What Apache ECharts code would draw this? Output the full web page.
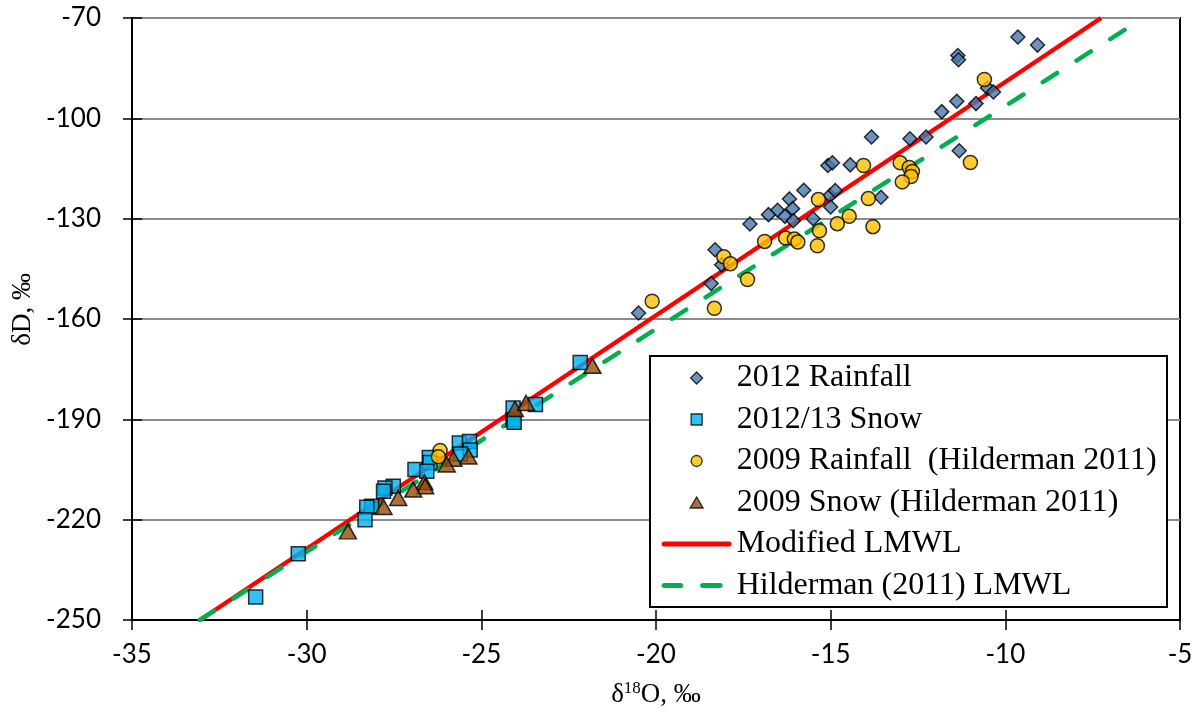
<!DOCTYPE html>
<html>
<head>
<meta charset="utf-8">
<script src="https://cdn.jsdelivr.net/npm/echarts@6/dist/echarts.min.js"></script>
<style>
html,body{margin:0;padding:0;background:#fff;}
#chart{width:1196px;height:713px;}
</style>
</head>
<body>
<div id="chart"></div>
<script>
// ---- Data (δ18O ‰, δD ‰) ----
const rain2012 = [[-9.64,-75.7],[-9.08,-78.1],[-11.36,-81.2],[-11.34,-82.5],[-10.51,-90.9],[-10.34,-92.1],[-11.39,-94.9],[-10.84,-95.6],[-11.82,-98.0],[-13.83,-105.6],[-12.73,-106.1],[-12.27,-105.6],[-11.32,-109.7],[-15.08,-114.1],[-14.95,-113.3],[-14.44,-113.9],[-15.77,-121.5],[-16.18,-124.1],[-15.02,-123.1],[-14.87,-121.6],[-13.56,-123.6],[-15.0,-126.5],[-16.09,-127.0],[-16.52,-127.5],[-16.78,-128.8],[-16.31,-129.3],[-16.07,-130.6],[-15.5,-130.0],[-17.31,-131.6],[-18.31,-139.3],[-18.12,-143.8],[-18.42,-149.4],[-20.5,-158.2]];
const snow2012 = [[-22.17,-173.0],[-24.09,-186.6],[-23.45,-185.6],[-24.09,-190.1],[-24.06,-190.9],[-25.63,-197.1],[-25.34,-196.6],[-25.32,-199.2],[-25.6,-200.4],[-26.49,-201.4],[-26.47,-202.9],[-26.9,-205.0],[-26.56,-205.5],[-27.52,-210.0],[-27.76,-210.5],[-27.8,-211.5],[-28.14,-216.0],[-28.28,-216.3],[-28.33,-220.0],[-30.24,-230.2],[-31.46,-243.1]];
const rain2009 = [[-10.6,-88.4],[-14.06,-114.1],[-13.01,-113.3],[-12.75,-114.7],[-12.66,-115.9],[-12.70,-117.4],[-12.95,-119.0],[-11.0,-113.2],[-15.35,-124.3],[-13.92,-124.0],[-14.47,-129.3],[-14.81,-131.5],[-13.79,-132.4],[-15.32,-133.6],[-15.38,-138.1],[-16.89,-136.8],[-16.29,-135.8],[-16.04,-136.1],[-15.94,-137.0],[-18.06,-141.4],[-17.87,-143.5],[-17.38,-148.2],[-20.11,-154.7],[-18.33,-156.8],[-26.18,-199.3],[-26.23,-201.2]];
const snow2009 = [[-21.82,-174.0],[-24.04,-186.9],[-23.72,-185.1],[-25.37,-201.1],[-25.8,-201.8],[-25.99,-203.5],[-26.63,-208.8],[-26.61,-210.0],[-26.95,-211.0],[-27.38,-213.5],[-27.8,-216.2],[-28.82,-223.5]];
const modLmwl = [[-33.05,-250],[-7.26,-70]];
const hildLmwl = [[-33.06,-250],[-6.29,-71.6]];
const seriesNames = ['2012 Rainfall','2012/13 Snow','2009 Rainfall  (Hilderman 2011)','2009 Snow (Hilderman 2011)','Modified LMWL','Hilderman (2011) LMWL'];
const xRange = {min:-35, max:-5, interval:5};
const yRange = {min:-250, max:-70, interval:30};

const chart = echarts.init(document.getElementById('chart'), null, {renderer:'canvas'});
const tickFont = {fontFamily:'Lato', fontSize:26, color:'#000'};
const serif = 'Liberation Serif, Times New Roman, serif';
const mk = {borderColor:'#000', borderWidth:1.5};

// legend icons laid out in a 70 x 12 box (corner moveTo points fix the box)
const box = 'path://M0 0M70 12';
const icons = [
  box + 'M35 0L41 6L35 12L29 6Z',
  box + 'M29.5 0.5H40.5V11.5H29.5Z',
  box + 'M35 0.5A5.5 5.5 0 1 1 34.99 0.5Z',
  box + 'M35 0.5L41.5 11.5H28.5Z',
  box + 'M2.5 3.5H67.5A2.5 2.5 0 0 1 67.5 8.5H2.5A2.5 2.5 0 0 1 2.5 3.5Z',
  box + 'M2.5 3.5H19A2.5 2.5 0 0 1 19 8.5H2.5A2.5 2.5 0 0 1 2.5 3.5Z M41 3.5H58.5A2.5 2.5 0 0 1 58.5 8.5H41A2.5 2.5 0 0 1 41 3.5Z'
];
const legendData = seriesNames.map((n, i) => ({
  name: n, icon: icons[i],
  itemStyle: i < 4 ? {borderColor:'#000', borderWidth:1.3} : {borderWidth:0}
}));

chart.setOption({
  animation:false,
  backgroundColor:'#fff',
  grid:{left:132, right:16, top:18, bottom:93, show:true, borderColor:'#000', borderWidth:2, backgroundColor:'transparent'},
  xAxis:[
    {type:'value', min:xRange.min, max:xRange.max, interval:xRange.interval,
     axisLine:{show:true, onZero:false, lineStyle:{color:'#000', width:2}},
     axisTick:{show:true, length:10, lineStyle:{color:'#000', width:1.5}},
     axisLabel:Object.assign({margin:22}, tickFont),
     splitLine:{show:false},
     name:'{a|δ}{s|18}{a|O, ‰}', nameLocation:'middle', nameGap:60,
     nameTextStyle:{rich:{a:{fontFamily:serif, fontSize:27, color:'#000', verticalAlign:'bottom'}, s:{fontFamily:serif, fontSize:17, color:'#000', verticalAlign:'bottom', padding:[0,0,11,0]}}}},
    {type:'value', min:xRange.min, max:xRange.max, interval:xRange.interval, position:'bottom',
     axisLine:{show:false}, axisLabel:{show:false}, splitLine:{show:false},
     axisTick:{show:true, inside:true, length:10, lineStyle:{color:'#000', width:1.5}}}
  ],
  yAxis:[
    {type:'value', min:yRange.min, max:yRange.max, interval:yRange.interval,
     axisLine:{show:true, onZero:false, lineStyle:{color:'#000', width:2}},
     axisTick:{show:true, length:9, lineStyle:{color:'#000', width:1.5}},
     axisLabel:Object.assign({margin:31}, tickFont),
     splitLine:{show:true, lineStyle:{color:'#8c8c8c', width:2}}},
    {type:'value', min:yRange.min, max:yRange.max, interval:yRange.interval, position:'left',
     axisLine:{show:false}, axisLabel:{show:false}, splitLine:{show:false},
     axisTick:{show:true, inside:true, length:10, lineStyle:{color:'#000', width:1.5}}}
  ],
  graphic:[
    {type:'rect', z:3, shape:{x:650, y:356, width:517, height:251}, style:{fill:'#fff', stroke:'#000', lineWidth:2}},
    {type:'text', left:9, top:273, rotation:Math.PI/2, style:{text:'δD, ‰', font:'27px '+serif, fill:'#000'}}
  ],
  legend:{
    orient:'vertical', left:661, top:362, padding:0, itemGap:9.5,
    itemWidth:70, itemHeight:12, symbolKeepAspect:false,
    textStyle:{fontFamily:serif, fontSize:32, color:'#000', lineHeight:30},
    data:legendData
  },
  series:[
    {name:seriesNames[0], type:'scatter', data:rain2012, symbol:'diamond', symbolSize:14, itemStyle:Object.assign({color:'#4777AE'}, mk), z:5},
    {name:seriesNames[1], type:'scatter', data:snow2012, symbol:'rect', symbolSize:14, itemStyle:Object.assign({color:'#00B0F0'}, mk), z:5},
    {name:seriesNames[2], type:'scatter', data:rain2009, symbol:'circle', symbolSize:14, itemStyle:Object.assign({color:'#FFC000'}, mk), z:5},
    {name:seriesNames[3], type:'scatter', data:snow2009, symbol:'triangle', symbolSize:[17,15], itemStyle:Object.assign({color:'#964B0E'}, mk), z:5},
    {name:seriesNames[4], type:'line', data:modLmwl, showSymbol:false, symbol:'none', lineStyle:{color:'#FF0000', width:4.5}, itemStyle:{color:'#FF0000'}, z:4},
    {name:seriesNames[5], type:'line', data:hildLmwl, showSymbol:false, symbol:'none', lineStyle:{color:'#00B050', width:4.5, type:[17,23], cap:'round'}, itemStyle:{color:'#00B050'}, z:4}
  ]
});
</script>
</body>
</html>
